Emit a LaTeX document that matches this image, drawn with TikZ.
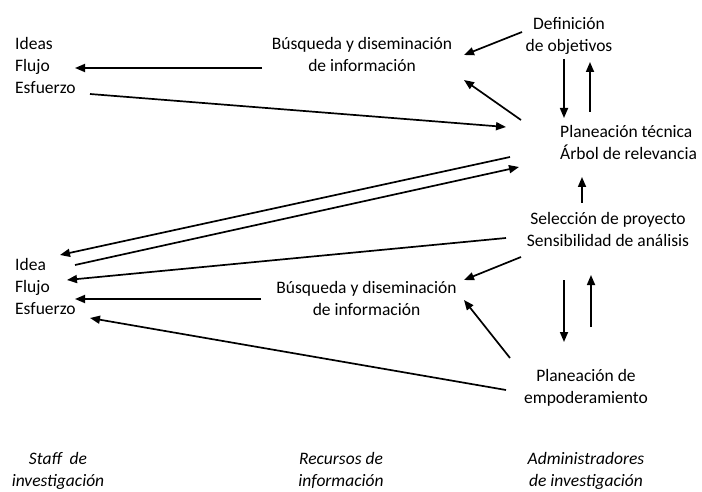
\documentclass[tikz,border=0pt]{standalone}
\usepackage{fontspec}
\setmainfont{Carlito}
\usetikzlibrary{arrows.meta}
\begin{document}
\begin{tikzpicture}[x=1pt,y=-1pt,
  txt/.style={font=\fontsize{17.5}{22}\selectfont, inner sep=0pt},
  itx/.style={txt, font=\fontsize{17.5}{22}\selectfont\itshape},
  arr/.style={line width=1.7pt, -{Triangle[length=10pt,width=8pt]}}]
\useasboundingbox (0,0) rectangle (702,492);
% text blocks
\node[txt, anchor=west] (ideas1) at (15,67.5) {\begin{tabular}{@{}l@{}}Ideas\\Flujo\\Esfuerzo\end{tabular}};
\node[txt] (bus1) at (362,56.5) {\begin{tabular}{@{}c@{}}Búsqueda y diseminación\\de información\end{tabular}};
\node[txt] (def) at (569,36) {\begin{tabular}{@{}c@{}}Definición\\de objetivos\end{tabular}};
\node[txt, anchor=west] (plan) at (560,144.5) {\begin{tabular}{@{}l@{}}Planeación técnica\\Árbol de relevancia\end{tabular}};
\node[txt] (sel) at (608,231.5) {\begin{tabular}{@{}c@{}}Selección de proyecto\\Sensibilidad de análisis\end{tabular}};
\node[txt, anchor=west] (ideas2) at (15,288.5) {\begin{tabular}{@{}l@{}}Idea\\Flujo\\Esfuerzo\end{tabular}};
\node[txt] (bus2) at (366.5,300) {\begin{tabular}{@{}c@{}}Búsqueda y diseminación\\de información\end{tabular}};
\node[txt] (emp) at (586,388.5) {\begin{tabular}{@{}c@{}}Planeación de\\empoderamiento\end{tabular}};
\node[itx] (staff) at (58,471.5) {\begin{tabular}{@{}c@{}}Staff~ de\\investigación\end{tabular}};
\node[itx] (rec) at (341,471.5) {\begin{tabular}{@{}c@{}}Recursos de\\información\end{tabular}};
\node[itx] (adm) at (586,471.5) {\begin{tabular}{@{}c@{}}Administradores\\de investigación\end{tabular}};
% arrow end points
\coordinate (a1s) at (262,68);  \coordinate (a1e) at (75,68);
\coordinate (a2s) at (90,94);   \coordinate (a2e) at (506,127);
\coordinate (a3s) at (522,32);  \coordinate (a3e) at (464,55);
\coordinate (a4s) at (521,120); \coordinate (a4e) at (464,80);
\coordinate (a5s) at (564,59);  \coordinate (a5e) at (564,118);
\coordinate (a6s) at (590,112); \coordinate (a6e) at (590,62);
\coordinate (a7s) at (510,157); \coordinate (a7e) at (60,255);
\coordinate (a8s) at (75,265);  \coordinate (a8e) at (519,167);
\coordinate (a9s) at (582,203); \coordinate (a9e) at (582,177);
\coordinate (a10s) at (506,238); \coordinate (a10e) at (67,280);
\coordinate (a11s) at (261,299); \coordinate (a11e) at (75,299);
\coordinate (a12s) at (521,257); \coordinate (a12e) at (464,280);
\coordinate (a13s) at (510,358); \coordinate (a13e) at (464,300);
\coordinate (a14s) at (564,280); \coordinate (a14e) at (564,342);
\coordinate (a15s) at (591,327); \coordinate (a15e) at (591,275);
\coordinate (a16s) at (506,390); \coordinate (a16e) at (90,318);
% arrows
\foreach \i in {1,...,16} \draw[arr] (a\i s) -- (a\i e);
\end{tikzpicture}
\end{document}
